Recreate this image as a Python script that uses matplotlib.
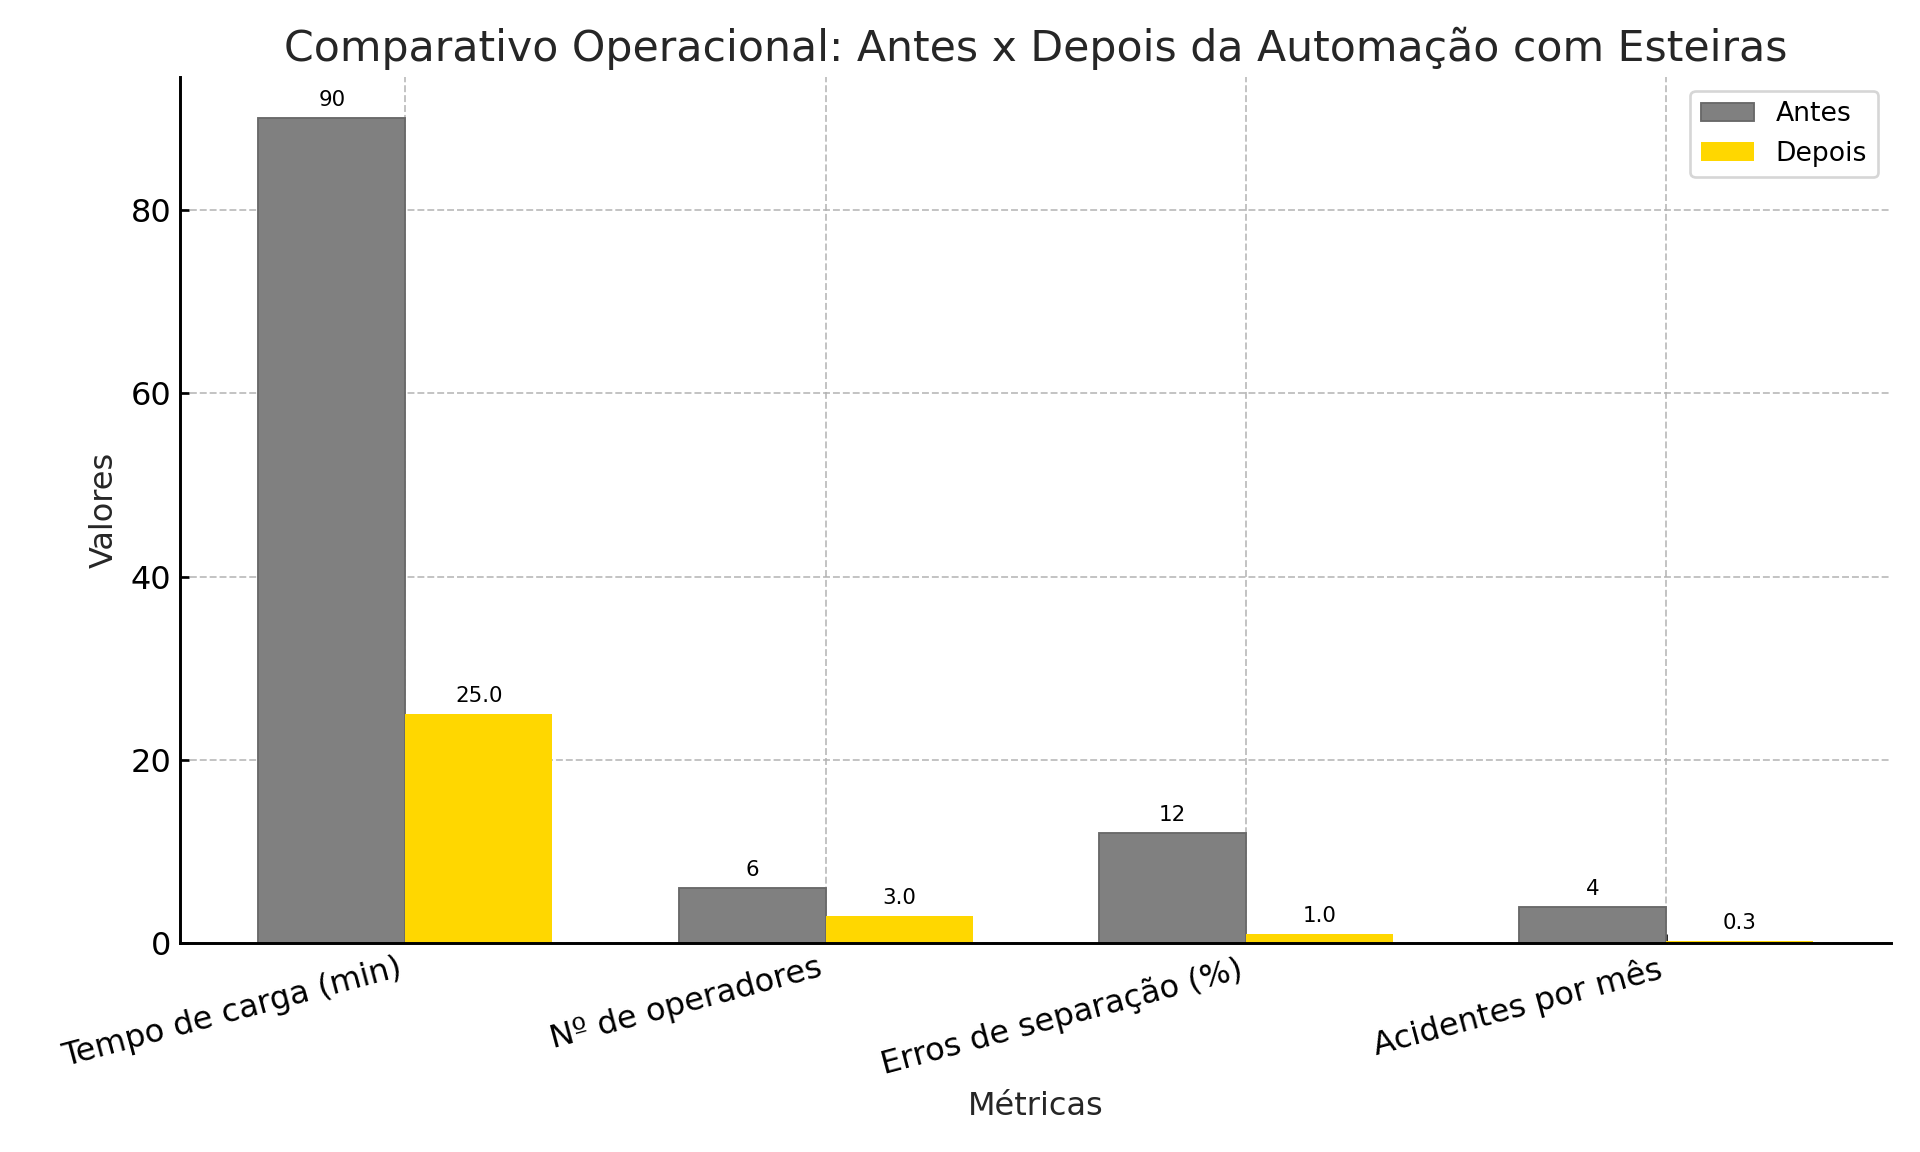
import matplotlib.pyplot as plt
import numpy as np

# Data
metricas = ['Tempo de carga (min)', 'Nº de operadores', 'Erros de separação (%)', 'Acidentes por mês']
antes = [90, 6, 12, 4]
depois = [25.0, 3.0, 1.0, 0.3]

x = np.arange(len(metricas))
width = 0.35

fig, ax = plt.subplots(figsize=(10, 6), dpi=192)
fig.subplots_adjust(left=0.094, right=0.985, top=0.933, bottom=0.181)

bars_antes = ax.bar(x - width / 2, antes, width, label='Antes', color='gray', edgecolor='dimgray', linewidth=0.7)
bars_depois = ax.bar(x + width / 2, depois, width, label='Depois', color='gold')

# Value labels on top of bars
for bars in (bars_antes, bars_depois):
    for bar in bars:
        h = bar.get_height()
        ax.annotate(f'{h}', xy=(bar.get_x() + bar.get_width() / 2, h),
                    xytext=(0, 3), textcoords='offset points',
                    ha='center', va='bottom', fontsize=8)

ax.set_title('Comparativo Operacional: Antes x Depois da Automação com Esteiras', fontsize=16, color='#262626')
ax.set_xlabel('Métricas', fontsize=12, color='#262626')
ax.set_ylabel('Valores', fontsize=12, color='#262626')
ax.set_xticks(x)
ax.set_xticklabels(metricas, rotation=15, ha='right')
ax.tick_params(axis='both', labelsize=12, direction='in', length=3.5, width=1)

ax.grid(True, linestyle='--', color='#b0b0b0', alpha=0.8, linewidth=0.7)
ax.set_axisbelow(True)

ax.spines['top'].set_visible(False)
ax.spines['right'].set_visible(False)
ax.spines['left'].set_linewidth(1.1)
ax.spines['bottom'].set_linewidth(1.1)

ax.legend(fontsize=10)

plt.savefig('out.png')
